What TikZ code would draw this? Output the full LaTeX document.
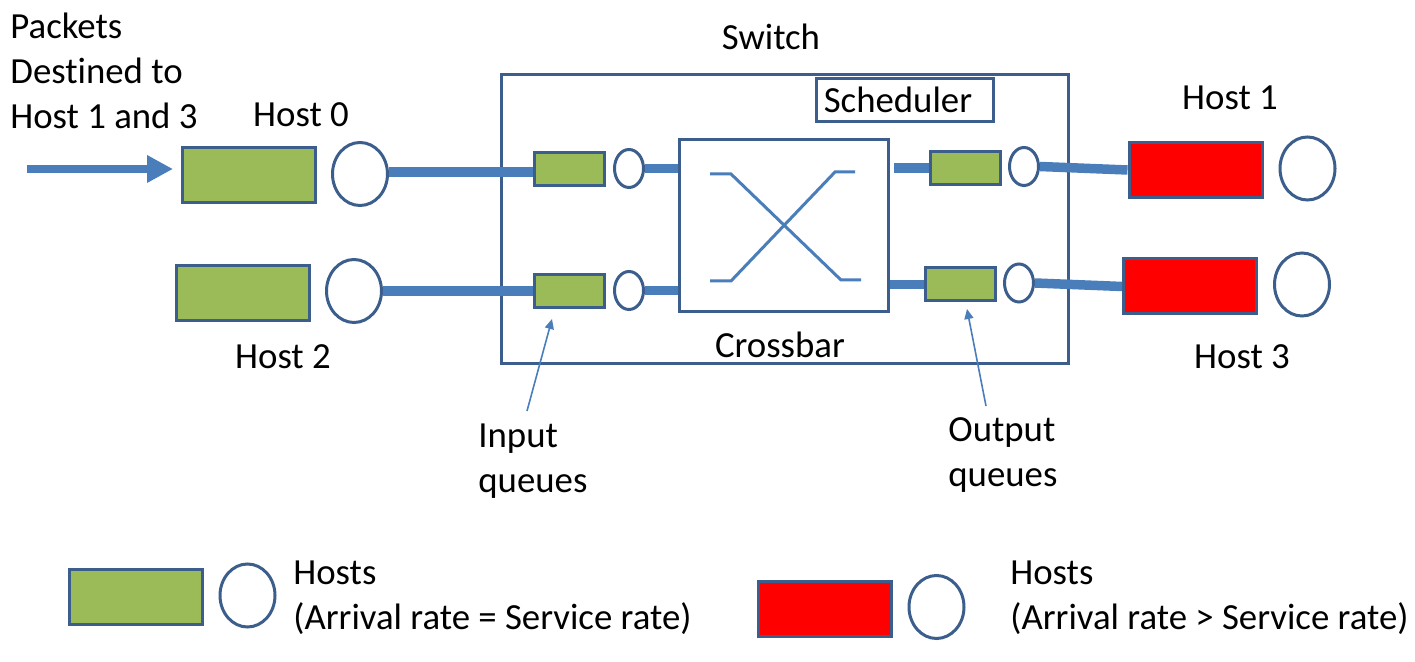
\documentclass[tikz,border=0pt]{standalone}
\usepackage{fontspec}
\setmainfont[Ligatures=NoCommon]{Carlito}
\usetikzlibrary{shapes.geometric,arrows.meta}
\definecolor{bord}{HTML}{3B5E8C}
\definecolor{gfill}{HTML}{9BBB59}
\definecolor{lblue}{HTML}{4A7EBB}
\definecolor{rfill}{HTML}{FF0000}
\tikzset{
  every node/.style={font=\fontsize{18.4}{22.5}\selectfont, inner sep=0pt},
  hostbox/.style={draw=bord, line width=1.5pt, minimum width=66.5pt, minimum height=27.5pt},
  greenbox/.style={hostbox, fill=gfill},
  redbox/.style={hostbox, fill=rfill},
  hostcirc/.style={ellipse, draw=bord, line width=1.5pt, fill=white, minimum width=27.5pt, minimum height=31.5pt},
  qbox/.style={draw=bord, line width=1.5pt, fill=gfill, minimum width=35pt, minimum height=16.5pt},
  qcirc/.style={ellipse, draw=bord, line width=1.5pt, fill=white, minimum width=14.5pt, minimum height=19pt},
  frame/.style={draw=bord, line width=1.5pt},
  link/.style={draw=lblue, line width=4.75pt},
  xline/.style={draw=lblue, line width=1.5pt},
  pointer/.style={draw=lblue, line width=0.8pt, -{Triangle[length=5pt,width=4.5pt]}},
  lbl/.style={align=left}
}
\begin{document}
\begin{tikzpicture}[x=0.5pt,y=-0.5pt]
\useasboundingbox (0,0) rectangle (1415,662);

% switch frame
\node[frame, minimum width=283.5pt, minimum height=144.5pt] (switch) at (785,219) {};
\node (switchlbl) at (771,37) {Switch};
\node[frame, fill=white, minimum width=88.5pt, minimum height=21.5pt] (sched) at (905,100) {};
\node (schedlbl) at (898,100) {Scheduler};
\node[frame, fill=white, minimum width=104.5pt, minimum height=86pt] (xbar) at (784,225.5) {};
\node (xbarlbl) at (780,345) {Crossbar};

% crossbar lines
\draw[xline] (710,174) -- (731,174) -- (841,280) -- (861,280);
\draw[xline] (710,281) -- (731,281) -- (835,172) -- (855,172);

% hosts left
\node[greenbox] (h0) at (249,175.5) {};
\node[hostcirc] (h0c) at (360,174) {};
\node[greenbox] (h2) at (243,293) {};
\node[hostcirc] (h2c) at (354,291) {};
\node (h0lbl) at (301,115) {Host 0};
\node (h2lbl) at (283,357) {Host 2};
\node[lbl, anchor=west] (pkt) at (10,71) {Packets\\Destined to\\Host 1 and 3};

% input queues
\node[qbox] (iq1) at (569.5,169) {};
\node[qcirc] (iq1c) at (629,168.5) {};
\node[qbox] (iq2) at (569.5,291) {};
\node[qcirc] (iq2c) at (629,290.5) {};

% output queues
\node[qbox] (oq1) at (965,168) {};
\node[qcirc] (oq1c) at (1024,166.5) {};
\node[qbox] (oq2) at (960,284.5) {};
\node[qcirc] (oq2c) at (1019,283) {};

% hosts right
\node[redbox] (h1) at (1195.5,170) {};
\node[hostcirc] (h1c) at (1307.5,168.5) {};
\node[redbox] (h3) at (1190,286.5) {};
\node[hostcirc] (h3c) at (1302,284.5) {};
\node (h1lbl) at (1230,98) {Host 1};
\node (h3lbl) at (1242,357) {Host 3};

% thick links
\draw[link] ([yshift=1pt]h0c.east) -- ([yshift=1pt]h0c.east -| iq1.west);
\draw[link] (h2c.east) -- (iq2.west);
\draw[link] (iq1c.east) -- (iq1c.east -| xbar.west);
\draw[link] (iq2c.east) -- (iq2c.east -| xbar.west);
\draw[link] ([xshift=2pt]xbar.east |- oq1.west) -- (oq1.west);
\draw[link] (xbar.east |- oq2.west) -- (oq2.west);
\draw[link] (oq1c.east) -- (h1.west);
\draw[link] (oq2c.east) -- (h3.west);

% incoming arrow
\coordinate (src) at (27,169);
\draw[draw=lblue, line width=4.3pt, -{Triangle[length=13pt,width=13pt]}, shorten >=4pt] (src) -- (src -| h0.west);

% pointers
\coordinate (iqt) at (527,411);
\coordinate (iqh) at (552,319);
\draw[pointer] (iqt) -- (iqh);
\node[lbl, anchor=west] (iqlbl) at (478,461) {Input\\queues};
\coordinate (oqt) at (986,406);
\coordinate (oqh) at (967,309);
\draw[pointer] (oqt) -- (oqh);
\node[lbl, anchor=west] (oqlbl) at (948,455) {Output\\queues};

% legend
\node[greenbox] (lg) at (135.5,597) {};
\node[hostcirc] (lgc) at (247.5,595.5) {};
\node[lbl, anchor=west] (lgt) at (293,598) {Hosts\\(Arrival rate = Service rate)};
\node[redbox] (lr) at (825,609.5) {};
\node[hostcirc] (lrc) at (936.5,607) {};
\node[lbl, anchor=west] (lrt) at (1010,598) {Hosts\\(Arrival rate > Service rate)};
\end{tikzpicture}
\end{document}
